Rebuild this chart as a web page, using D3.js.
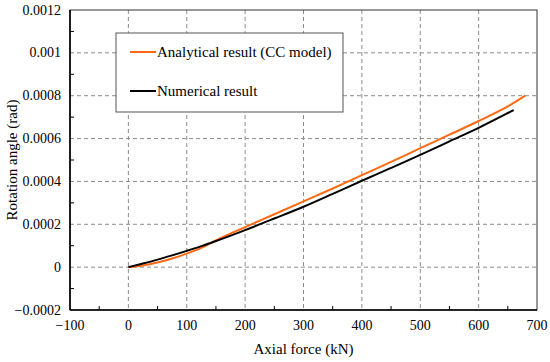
<!DOCTYPE html>
<html>
<head>
<meta charset="utf-8">
<script src="https://cdn.jsdelivr.net/npm/d3@7"></script>
<style>
  body { margin: 0; background: #fff; }
  svg text { font-family: "Liberation Serif", "Times New Roman", serif; }
</style>
</head>
<body>
<script>
// data
var analyticalX = [0, 25, 50, 75, 100, 125, 150, 200, 250, 300, 350, 400, 450, 500, 550, 600, 650, 680];
var analyticalY = [0, 0.000008, 0.000022, 0.00004, 0.000063, 0.00009, 0.000125, 0.000187, 0.000247, 0.000307, 0.000367, 0.000429, 0.000491, 0.000555, 0.000618, 0.000682, 0.00075, 0.0008];
var numericalX = [0, 25, 50, 75, 100, 125, 150, 200, 250, 300, 350, 400, 450, 500, 550, 600, 660];
var numericalY = [0, 0.000017, 0.000035, 0.000055, 0.000076, 0.000098, 0.000122, 0.000173, 0.000227, 0.000282, 0.000342, 0.000403, 0.000463, 0.000524, 0.000587, 0.00065, 0.000733];
var xTicks = [-100, 0, 100, 200, 300, 400, 500, 600, 700];
var yTicks = [-0.0002, 0, 0.0002, 0.0004, 0.0006, 0.0008, 0.001, 0.0012];
var yTickLabels = ["\u22120.0002", "0", "0.0002", "0.0004", "0.0006", "0.0008", "0.001", "0.0012"];
var seriesNames = ["Analytical result (CC model)", "Numerical result"];
var seriesColors = ["#ff6a10", "#000000"];

var W = 550, H = 362;
var margin = {top: 10, right: 13, bottom: 52, left: 70};
var width = W - margin.left - margin.right,
    height = H - margin.top - margin.bottom;

var svg = d3.select("body").append("svg")
    .attr("width", W)
    .attr("height", H)
    .attr("font-family", "Liberation Serif, serif");
var g = svg.append("g")
    .attr("transform", "translate(" + margin.left + "," + margin.top + ")");

var x = d3.scaleLinear().domain([-100, 700]).range([0, width]);
var y = d3.scaleLinear().domain([-0.0002, 0.0012]).range([height, 0]);

// dashed grid
g.selectAll(".gx").data(xTicks.slice(1, -1)).enter().append("line")
    .attr("x1", function(d) { return x(d); }).attr("x2", function(d) { return x(d); })
    .attr("y1", 0).attr("y2", height)
    .style("stroke", "#8c8c8c").style("stroke-width", 1).style("stroke-dasharray", "4,3");
g.selectAll(".gy").data(yTicks.slice(1, -1)).enter().append("line")
    .attr("x1", 0).attr("x2", width)
    .attr("y1", function(d) { return y(d); }).attr("y2", function(d) { return y(d); })
    .style("stroke", "#8c8c8c").style("stroke-width", 1).style("stroke-dasharray", "4,3");

// minor ticks, inside
var xMinor = d3.range(-50, 700, 100);
var yMinor = d3.range(-0.0001, 0.0012, 0.0002);
g.selectAll(".mx").data(xMinor).enter().append("line")
    .attr("x1", function(d) { return x(d); }).attr("x2", function(d) { return x(d); })
    .attr("y1", height).attr("y2", height - 4)
    .style("stroke", "#000");
g.selectAll(".my").data(yMinor).enter().append("line")
    .attr("x1", 0).attr("x2", 4)
    .attr("y1", function(d) { return y(d); }).attr("y2", function(d) { return y(d); })
    .style("stroke", "#000");

// frame
g.append("rect").attr("width", width).attr("height", height)
    .style("fill", "none").style("stroke", "#333").style("stroke-width", 1);
g.append("line").attr("x1", 0).attr("x2", width).attr("y1", height).attr("y2", height)
    .style("stroke", "#000").style("stroke-width", 1.6);
g.append("line").attr("x1", 0).attr("x2", 0).attr("y1", 0).attr("y2", height)
    .style("stroke", "#000").style("stroke-width", 1.6);

// tick labels
g.selectAll(".tx").data(xTicks).enter().append("text")
    .attr("x", function(d) { return x(d); })
    .attr("y", height + 20)
    .attr("text-anchor", "middle")
    .style("font-size", "14px")
    .text(function(d) { return d < 0 ? "\u2212" + Math.abs(d) : d; });
g.selectAll(".ty").data(yTicks).enter().append("text")
    .attr("x", -9)
    .attr("y", function(d) { return y(d) + 4.5; })
    .attr("text-anchor", "end")
    .style("font-size", "14px")
    .text(function(d, i) { return yTickLabels[i]; });

// axis titles
svg.append("text")
    .attr("x", margin.left + width / 2)
    .attr("y", 354)
    .attr("text-anchor", "middle")
    .style("font-size", "15px")
    .text("Axial force (kN)");
svg.append("text")
    .attr("transform", "translate(17," + (margin.top + height / 2) + ") rotate(-90)")
    .attr("text-anchor", "middle")
    .style("font-size", "15px")
    .text("Rotation angle (rad)");

// series
var line = d3.line()
    .x(function(d) { return x(d[0]); })
    .y(function(d) { return y(d[1]); })
    .curve(d3.curveMonotoneX);
var series = [
  d3.zip(analyticalX, analyticalY),
  d3.zip(numericalX, numericalY)
];
g.selectAll(".series").data(series).enter().append("path")
    .attr("d", line)
    .style("fill", "none")
    .style("stroke", function(d, i) { return seriesColors[i]; })
    .style("stroke-width", 2);

// legend
var lg = svg.append("g").attr("transform", "translate(116,33)");
lg.append("rect").attr("width", 227).attr("height", 79)
    .style("fill", "#fff").style("stroke", "#555").style("stroke-width", 1);
var items = lg.selectAll(".item").data(seriesNames).enter().append("g")
    .attr("transform", function(d, i) { return "translate(0," + (19 + i * 39) + ")"; });
items.append("line")
    .attr("x1", 14).attr("x2", 40).attr("y1", 0).attr("y2", 0)
    .style("stroke", function(d, i) { return seriesColors[i]; })
    .style("stroke-width", 2);
items.append("text")
    .attr("x", 41).attr("y", 5)
    .style("font-size", "15px")
    .text(function(d) { return d; });
</script>
</body>
</html>
